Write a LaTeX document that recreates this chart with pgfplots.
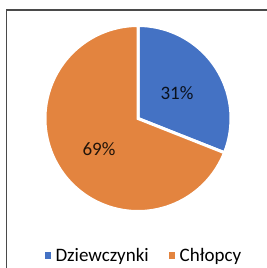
\documentclass[border=0pt]{standalone}
\usepackage{pgfplots}
\pgfplotsset{compat=1.18}
\usepackage{pgfplotstable}
\usepackage{fontspec}
\setmainfont{Carlito}
\definecolor{pieblue}{HTML}{4472C4}
\definecolor{pieorange}{HTML}{E3843F}
\definecolor{frame}{HTML}{4A4A4A}
\pgfplotstableread{
idx value
0 31
1 69
}\piedata
\begin{document}
\begin{tikzpicture}
\pgfplotstablegetelem{0}{value}\of\piedata
\pgfmathtruncatemacro{\va}{\pgfplotsretval}
\pgfplotstablegetelem{1}{value}\of\piedata
\pgfmathtruncatemacro{\vb}{\pgfplotsretval}
\pgfmathsetmacro{\aend}{90-3.6*\va}
\pgfmathsetmacro{\bend}{\aend-3.6*\vb}
\begin{axis}[
  width=267bp, height=268bp, scale only axis,
  xmin=0, xmax=267, ymin=0, ymax=268,
  hide axis, clip=false,
  legend columns=2,
  legend cell align=left,
  legend style={draw=none, fill=none,
    at={(axis description cs:0.539,0.0466)}, anchor=center,
    font=\fontsize{19bp}{22bp}\selectfont,
    /tikz/every odd column/.append style={column sep=3bp},
    /tikz/every even column/.append style={column sep=18bp},
    nodes={inner sep=2bp}},
]
\coordinate (tl) at (axis cs:0,268);
\coordinate (br) at (axis cs:267,0);
\draw[frame, line width=1.5bp] (axis cs:6.5,0) -- (axis cs:6.5,258) -- (axis cs:267,258);
\filldraw[fill=pieblue, draw=white, line width=3bp, line join=miter]
  (axis cs:138,149.5) -- ++(90:93bp) arc[start angle=90, end angle=\aend, radius=93bp] -- cycle;
\filldraw[fill=pieorange, draw=white, line width=3bp, line join=miter]
  (axis cs:138,149.5) -- ++(\aend:93bp) arc[start angle=\aend, end angle=\bend, radius=93bp] -- cycle;
\node[font=\fontsize{19bp}{22bp}\selectfont, text=pieblue!15!black] at (axis cs:177,175) {\va\%};
\node[font=\fontsize{19bp}{22bp}\selectfont, text=pieorange!15!black] at (axis cs:99,118.5) {\vb\%};
\addlegendimage{legend image code/.code={\fill[pieblue] (0bp,-2.6bp) rectangle (5.5bp,2.9bp);}}
\addlegendentry{Dziewczynki}
\addlegendimage{legend image code/.code={\fill[pieorange] (0bp,-2.6bp) rectangle (5.5bp,2.9bp);}}
\addlegendentry{Chłopcy}
\end{axis}
\pgfresetboundingbox
\path (tl) rectangle (br);
\end{tikzpicture}
\end{document}
